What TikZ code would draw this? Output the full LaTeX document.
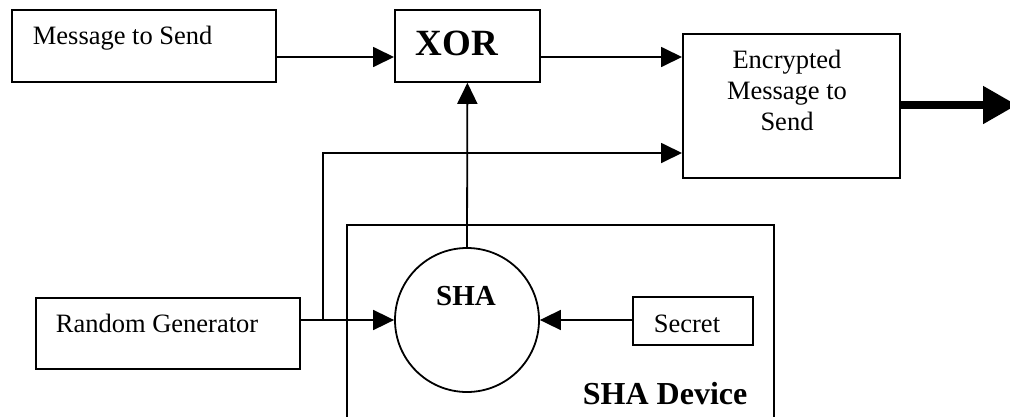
\documentclass[tikz,border=0pt]{standalone}
\usepackage{fontspec}
\setmainfont{Liberation Serif}
\usetikzlibrary{arrows.meta}
\begin{document}
\begin{tikzpicture}[x=1pt,y=-1pt,
  line width=1.8pt,
  box/.style={draw, rectangle, inner sep=0pt, anchor=north west},
  lbl/.style={inner sep=0pt, anchor=base west, font=\fontsize{26.5}{31}\selectfont},
  boldlbl/.style={inner sep=0pt, font=\bfseries\fontsize{#1}{#1}\selectfont},
  flow/.style={-{Triangle[length=21pt,width=20pt]}},
  outflow/.style={line width=8pt, -{Triangle[length=34pt,width=36pt]}}]
  \fill[white] (0,0) rectangle (1010,416);
  \useasboundingbox (0,0) rectangle (1010,416);

  % blocks
  \node[box, minimum width=264pt, minimum height=72pt] (msg) at (11,9) {};
  \node[box, minimum width=145pt, minimum height=72pt] (xor) at (394,9) {};
  \node[box, minimum width=217pt, minimum height=144pt] (enc) at (682,33) {};
  \node[box, minimum width=264pt, minimum height=71pt] (rng) at (35,297) {};
  \node[box, minimum width=120pt, minimum height=48pt] (secret) at (632,296) {};
  \node[draw, circle, minimum size=144pt, inner sep=0pt] (sha) at (467,320) {};

  % device housing, open at the bottom
  \draw (347,432) -- (347,225) -- (774,225) -- (774,432);

  % labels
  \node[lbl] at (32,44) {Message to Send};
  \node[boldlbl=37, anchor=base west] at (415,55) {XOR};
  \node[inner sep=0pt, align=center, font=\fontsize{26.5}{31}\selectfont] at (787,90)
    {Encrypted\\Message to\\Send};
  \node[lbl] at (55,332) {Random Generator};
  \node[lbl] at (653,332) {Secret};
  \node[boldlbl=29, anchor=base] at (466,305) {SHA};
  \node[boldlbl=32, anchor=base west] at (582,404) {SHA Device};

  % connectors
  \coordinate (split) at (323,320);
  \coordinate (bend) at (323,153);
  \coordinate (out) at (1017,105);

  \draw[flow] (msg.east |- 0,57) -- (xor.west |- 0,57);
  \draw[flow] (xor.east |- 0,57) -- (enc.west |- 0,57);
  \draw[flow] (sha.north) -- (xor.south);
  \draw[flow] (rng.east |- sha.west) -- (sha.west);
  \draw[flow] (secret.west |- sha.east) -- (sha.east);
  \draw[flow] (split) -- (bend) -- (bend -| enc.west);
  \draw[outflow] (enc.east |- out) -- (out);
\end{tikzpicture}
\end{document}
